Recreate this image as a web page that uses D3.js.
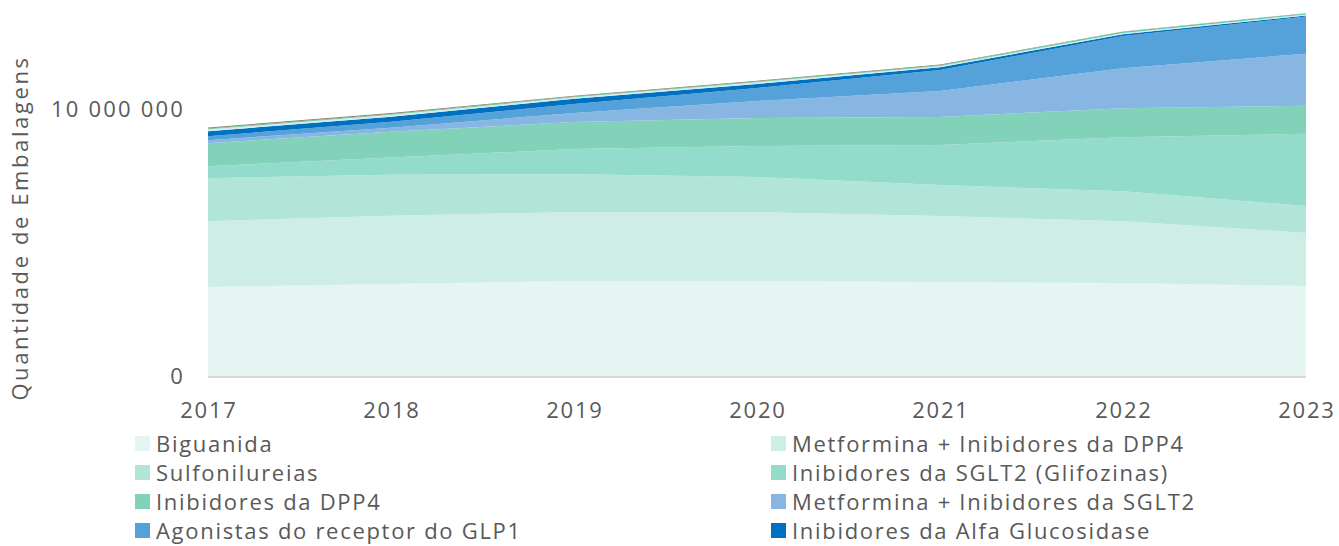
<!DOCTYPE html>
<html>
<head>
<meta charset="utf-8">
<script src="https://cdn.jsdelivr.net/npm/d3@7"></script>
<style>
  body { margin: 0; background: #fff; }
  text { font-family: "Open Sans", Lato, sans-serif; fill: #595959; }
</style>
</head>
<body>
<div id="chart-area"></div>
<script>
// years on the x axis
var years = [2017, 2018, 2019, 2020, 2021, 2022, 2023];

// series values (packages)
var biguanida    = [3330000, 3450000, 3560000, 3560000, 3520000, 3480000, 3370000];
var metDpp4      = [2470000, 2550000, 2580000, 2580000, 2470000, 2320000, 1990000];
var sulfonil     = [1610000, 1540000, 1420000, 1310000, 1160000, 1120000, 1010000];
var sglt2        = [450000, 640000, 940000, 1160000, 1500000, 2020000, 2700000];
var dpp4         = [860000, 970000, 1010000, 1050000, 1050000, 1090000, 1050000];
var metSglt2     = [110000, 150000, 340000, 640000, 970000, 1500000, 1950000];
var glp1         = [150000, 220000, 340000, 490000, 790000, 1200000, 1390000];
var alfaGluc     = [190000, 190000, 190000, 150000, 100000, 70000, 40000];
// thin unlabeled layers at the top
var outrosA      = [70000, 70000, 60000, 60000, 50000, 50000, 40000];
var outrosB      = [30000, 30000, 30000, 30000, 30000, 40000, 40000];
var outrosC      = [40000, 40000, 30000, 30000, 30000, 10000, 10000];

var seriesNames = ["Biguanida", "Metformina + Inibidores da DPP4", "Sulfonilureias",
  "Inibidores da SGLT2 (Glifozinas)", "Inibidores da DPP4", "Metformina + Inibidores da SGLT2",
  "Agonistas do receptor do GLP1", "Inibidores da Alfa Glucosidase", "outrosA", "outrosB", "outrosC"];
var seriesValues = [biguanida, metDpp4, sulfonil, sglt2, dpp4, metSglt2, glp1, alfaGluc, outrosA, outrosB, outrosC];
var colors = ["#E5F5F1", "#CDEDE5", "#B1E5D7", "#93DCCB", "#82D1B9", "#88B6E3", "#55A2DA", "#0070C0",
  "#D4ECF0", "#5CCBA8", "#8E8868"];
var legendCount = 8;

var yTicks = [0, 10000000];

var width = 1339, height = 546;
var svg = d3.select("#chart-area").append("svg")
  .attr("width", width)
  .attr("height", height);

var x = d3.scaleLinear().domain([2017, 2023]).range([208, 1306]);
var y = d3.scaleLinear().domain([0, 10000000]).range([376, 109]);

// build table for stack
var table = years.map(function(yr, i) {
  var row = { year: yr };
  seriesNames.forEach(function(n, k) { row[n] = seriesValues[k][i]; });
  return row;
});

var stack = d3.stack().keys(seriesNames);
var layers = stack(table);

var area = d3.area()
  .x(function(d) { return x(d.data.year); })
  .y0(function(d) { return y(d[0]); })
  .y1(function(d) { return y(d[1]); });

svg.append("g").selectAll("path")
  .data(layers)
  .enter().append("path")
  .attr("d", area)
  .attr("fill", function(d, i) { return colors[i]; });

// x axis line
svg.append("line")
  .attr("x1", x(2017)).attr("x2", x(2023))
  .attr("y1", y(0) + 1).attr("y2", y(0) + 1)
  .attr("stroke", "#D9D9D9")
  .attr("stroke-width", 2);

// x tick labels
svg.append("g").selectAll("text")
  .data(years)
  .enter().append("text")
  .attr("x", function(d) { return x(d) + 1; })
  .attr("y", 418)
  .attr("text-anchor", "middle")
  .attr("font-size", "22px")
  .attr("letter-spacing", "1.8px")
  .text(function(d) { return d; });

// y tick labels
var fmt = function(d) { return d3.format(",")(d).replace(/,/g, " "); };
svg.append("g").selectAll("text")
  .data(yTicks)
  .enter().append("text")
  .attr("x", 185)
  .attr("y", function(d) { return y(d) + 8; })
  .attr("text-anchor", "end")
  .attr("font-size", "22px")
  .attr("letter-spacing", "2.2px")
  .text(fmt);

// y axis title
svg.append("text")
  .attr("transform", "translate(28, 228) rotate(-90)")
  .attr("text-anchor", "middle")
  .attr("font-size", "22px")
  .attr("letter-spacing", "2.6px")
  .text("Quantidade de Embalagens");

// legend
var legend = svg.append("g").selectAll("g")
  .data(seriesNames.slice(0, legendCount))
  .enter().append("g")
  .attr("transform", function(d, i) {
    var col = i % 2, row = Math.floor(i / 2);
    return "translate(" + (col === 0 ? 135 : 771) + "," + (436 + row * 29) + ")";
  });
legend.append("rect")
  .attr("width", 15).attr("height", 15)
  .attr("fill", function(d, i) { return colors[i]; });
legend.append("text")
  .attr("x", 21)
  .attr("y", 16)
  .attr("font-size", "22px")
  .attr("letter-spacing", "1.7px")
  .text(function(d) { return d; });
</script>
</body>
</html>
